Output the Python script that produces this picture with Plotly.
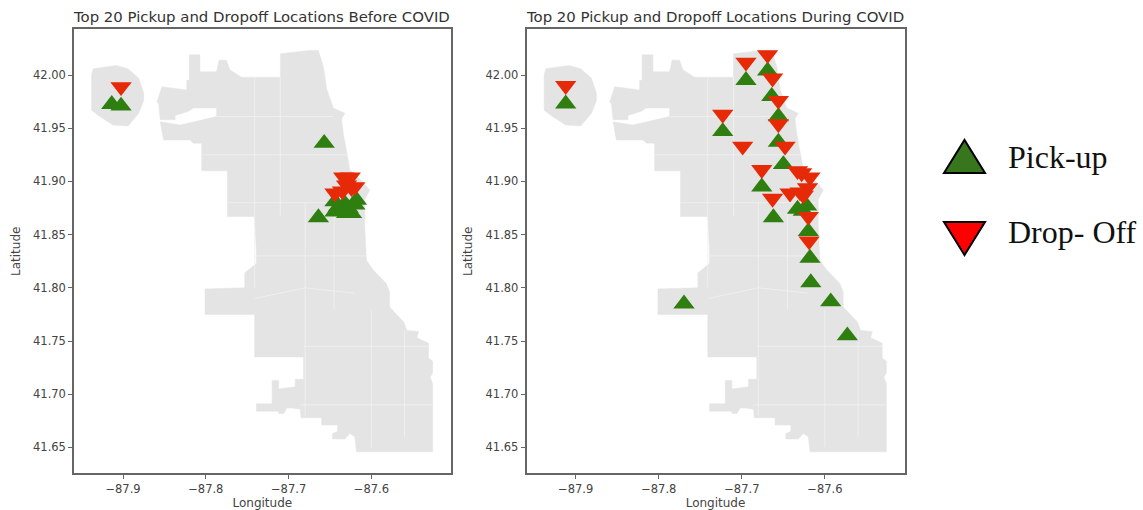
## Top pickup and dropoff locations, before and during COVID

import plotly.graph_objects as go

# city outline (lon, lat), airport blob first, None splits the two pieces
city_lon = [-87.938, -87.936, -87.908, -87.894, -87.881, -87.875, -87.875, -87.881, -87.894, -87.912, -87.928, -87.938, -87.938, None,
            -87.820, -87.807, -87.807, -87.787, -87.784, -87.775, -87.771, -87.757, -87.710, -87.710, -87.676, -87.664, -87.658, -87.654,
            -87.646, -87.632, -87.636, -87.634, -87.628, -87.626, -87.612, -87.602, -87.608, -87.608, -87.606, -87.598, -87.582, -87.578,
            -87.578, -87.561, -87.557, -87.543, -87.545, -87.531, -87.531, -87.526, -87.526, -87.529, -87.526, -87.526, -87.618, -87.620,
            -87.626, -87.632, -87.647, -87.647, -87.641, -87.641, -87.660, -87.660, -87.685, -87.686, -87.696, -87.702, -87.706, -87.712,
            -87.712, -87.739, -87.739, -87.720, -87.720, -87.712, -87.712, -87.696, -87.692, -87.692, -87.682, -87.682, -87.741, -87.741,
            -87.801, -87.801, -87.753, -87.753, -87.739, -87.739, -87.741, -87.774, -87.774, -87.805, -87.805, -87.815, -87.819, -87.851,
            -87.855, -87.831, -87.787, -87.787, -87.815, -87.821, -87.837, -87.837, -87.855, -87.857, -87.859, -87.853, -87.823, -87.823,
            -87.820, -87.820]
city_lat = [42.000, 42.006, 42.009, 42.006, 41.997, 41.983, 41.976, 41.964, 41.952, 41.953, 41.961, 41.967, 42.000, None,
            42.019, 42.019, 42.003, 42.003, 42.014, 42.014, 42.005, 41.998, 41.998, 42.020, 42.023, 42.023, 42.008, 41.987,
            41.969, 41.964, 41.959, 41.945, 41.920, 41.911, 41.901, 41.892, 41.883, 41.857, 41.826, 41.817, 41.804, 41.796,
            41.782, 41.768, 41.760, 41.759, 41.753, 41.748, 41.734, 41.731, 41.720, 41.716, 41.710, 41.646, 41.646, 41.660,
            41.663, 41.658, 41.658, 41.663, 41.665, 41.671, 41.671, 41.678, 41.678, 41.686, 41.687, 41.687, 41.682, 41.682,
            41.684, 41.684, 41.691, 41.691, 41.713, 41.713, 41.705, 41.707, 41.707, 41.714, 41.714, 41.735, 41.735, 41.775,
            41.775, 41.799, 41.800, 41.814, 41.823, 41.836, 41.867, 41.867, 41.910, 41.910, 41.936, 41.936, 41.939, 41.939,
            41.956, 41.953, 41.961, 41.969, 41.969, 41.966, 41.962, 41.958, 41.958, 41.973, 41.975, 41.989, 41.986, 41.995,
            41.995, 42.019]

# faint neighbourhood boundaries
border_lon = [-87.710, -87.710, None, -87.787, -87.646, None, -87.805, -87.628, None, -87.741, -87.741, None,
              -87.774, -87.610, None, -87.741, -87.606, None, -87.680, -87.680, None, -87.645, -87.645, None,
              -87.741, -87.680, -87.620, None, -87.600, -87.600, None, -87.682, -87.531, None, -87.686, -87.526, None,
              -87.560, -87.560]
border_lat = [41.998, 41.867, None, 41.961, 41.961, None, 41.925, 41.925, None, 41.998, 41.800, None,
              41.880, 41.880, None, 41.830, 41.830, None, 41.880, 41.680, None, 41.870, 41.780, None,
              41.790, 41.800, 41.795, None, 41.780, 41.650, None, 41.745, 41.745, None, 41.690, 41.690, None,
              41.760, 41.660]

# before COVID
pick_before_lon = [-87.9136, -87.9024, -87.657, -87.664, -87.644, -87.624, -87.620, -87.618, -87.644, -87.632, -87.634, -87.640, -87.628, -87.630]
pick_before_lat = [41.9725, 41.971, 41.936, 41.866, 41.8715, 41.870, 41.878, 41.8825, 41.881, 41.879, 41.872, 41.876, 41.875, 41.870]
drop_before_lon = [-87.9024, -87.6335, -87.6255, -87.620, -87.644, -87.635, -87.630, -87.624]
drop_before_lat = [41.989, 41.904, 41.904, 41.895, 41.889, 41.891, 41.8966, 41.894]

# during COVID
pick_during_lon = [-87.912, -87.695, -87.669, -87.664, -87.656, -87.723, -87.656, -87.650, -87.676, -87.662,
                   -87.633, -87.622, -87.626, -87.620, -87.618, -87.617, -87.593, -87.573, -87.7696]
pick_during_lat = [41.973, 41.995, 42.004, 41.980, 41.961, 41.947, 41.937, 41.916, 41.895, 41.866,
                   41.874, 41.877, 41.872, 41.853, 41.828, 41.805, 41.787, 41.755, 41.785]
drop_during_lon = [-87.912, -87.695, -87.669, -87.663, -87.656, -87.656, -87.723, -87.699, -87.648, -87.676,
                   -87.633, -87.618, -87.621, -87.663, -87.642, -87.630, -87.626, -87.620, -87.619, -87.628]
drop_during_lat = [41.990, 42.012, 42.019, 41.997, 41.976, 41.954, 41.963, 41.933, 41.933, 41.911,
                   41.910, 41.904, 41.894, 41.884, 41.889, 41.890, 41.887, 41.867, 41.844, 41.908]

titles = ["Top 20 Pickup and Dropoff Locations Before COVID", "Top 20 Pickup and Dropoff Locations During COVID"]
x_ticks = [-87.9, -87.8, -87.7, -87.6]
y_ticks = [42.00, 41.95, 41.90, 41.85, 41.80, 41.75, 41.70, 41.65]
legend_labels = ["Pick-up", "Drop- Off"]

W, H = 1143, 510
GREEN = "#2f7f10"
RED = "#e62a08"
GREY = "#e4e4e4"

fig = go.Figure()

panels = [("x", "y", pick_before_lon, pick_before_lat, drop_before_lon, drop_before_lat),
          ("x2", "y2", pick_during_lon, pick_during_lat, drop_during_lon, drop_during_lat)]

for xa, ya, plon, plat, dlon, dlat in panels:
    fig.add_trace(go.Scatter(x=city_lon, y=city_lat, xaxis=xa, yaxis=ya, mode="lines", fill="toself",
                             fillcolor=GREY, line=dict(color=GREY, width=0.5), hoverinfo="skip"))
    fig.add_trace(go.Scatter(x=border_lon, y=border_lat, xaxis=xa, yaxis=ya, mode="lines",
                             line=dict(color="#f1f1f1", width=0.8), hoverinfo="skip"))
    fig.add_trace(go.Scatter(x=plon, y=plat, xaxis=xa, yaxis=ya, mode="markers", name="Pick-up",
                             marker=dict(symbol="triangle-up", size=18.5, color=GREEN)))
    fig.add_trace(go.Scatter(x=dlon, y=dlat, xaxis=xa, yaxis=ya, mode="markers", name="Drop- Off",
                             marker=dict(symbol="triangle-down", size=18.5, color=RED)))

axis_style = dict(showgrid=False, zeroline=False, showline=True, linecolor="#666666", linewidth=1.5, mirror=True,
                  ticks="outside", ticklen=4, tickcolor="#666666", tickfont=dict(family="DejaVu Sans", size=11.5, color="#444444"))
x_range = [-87.9592, -87.5042]
y_range = [41.6257, 42.043]
y_dom = [1 - 473.3 / H, 1 - 29.3 / H]
title_font = dict(family="DejaVu Sans", size=12, color="#444444")

fig.update_layout(
    width=W, height=H, showlegend=False, plot_bgcolor="white", paper_bgcolor="white",
    margin=dict(l=0, r=0, t=0, b=0),
    xaxis=dict(domain=[74 / W, 450.7 / W], range=x_range, tickvals=x_ticks, tickformat=".1f",
               title=dict(text="Longitude", font=title_font, standoff=3), anchor="y", **axis_style),
    yaxis=dict(domain=y_dom, range=y_range, tickvals=y_ticks, tickformat=".2f",
               title=dict(text="Latitude", font=title_font, standoff=10), anchor="x", **axis_style),
    xaxis2=dict(domain=[526.5 / W, 904.5 / W], range=x_range, tickvals=x_ticks, tickformat=".1f",
                title=dict(text="Longitude", font=title_font, standoff=3), anchor="y2", **axis_style),
    yaxis2=dict(domain=y_dom, range=y_range, tickvals=y_ticks, tickformat=".2f",
                title=dict(text="Latitude", font=title_font, standoff=10), anchor="x2", **axis_style),
)

# panel titles
for text, cx in zip(titles, [261, 715]):
    fig.add_annotation(text=text, xref="paper", yref="paper", x=cx / W, y=1 - 17 / H, xanchor="center", yanchor="middle",
                       showarrow=False, font=dict(family="DejaVu Sans", size=14.9, color="#333333"))

# hand made legend on the right
keys = [("M944,173 L985,173 L964.5,140 Z", "#38761d"), ("M944,222 L985,222 L964.5,255 Z", "#ff0000")]
for (path, colour), label, y_px in zip(keys, legend_labels, [157, 232]):
    fig.add_shape(type="path", xref="paper", yref="paper", line=dict(color="black", width=2), fillcolor=colour,
                  path=" ".join(
                      (p[0] + f"{float(p[1:].split(',')[0]) / W:.5f},{1 - float(p[1:].split(',')[1]) / H:.5f}") if p != "Z" else p
                      for p in path.split()))
    fig.add_annotation(text=label, xref="paper", yref="paper", x=1006 / W, y=1 - y_px / H, xanchor="left", yanchor="middle",
                       showarrow=False, font=dict(family="Liberation Serif", size=32, color="#111111"))

fig.write_html("out.html", post_script="document.body.style.margin='0';", config=dict(displayModeBar=False))
